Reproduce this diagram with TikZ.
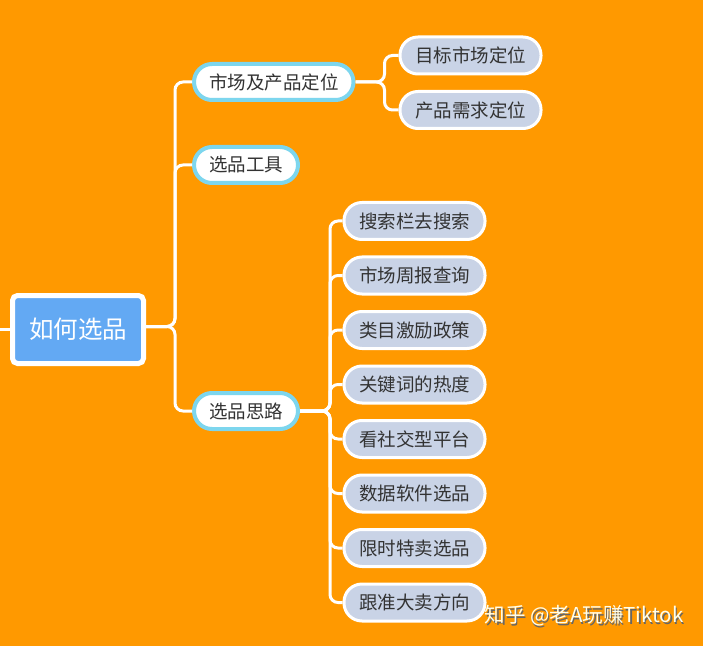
\documentclass[tikz,border=0pt]{standalone}
\usepackage{fontspec}
\setmainfont{Noto Sans CJK SC}
\usetikzlibrary{calc,positioning}

\definecolor{bgorange}{HTML}{FF9900}
\definecolor{rootblue}{HTML}{63A9F3}
\definecolor{topicrim}{HTML}{7DD6EE}
\definecolor{leafgray}{HTML}{C9D3E6}
\definecolor{textgray}{HTML}{333333}

\begin{document}
\begin{tikzpicture}[x=1pt,y=1pt]

  \tikzstyle{root}=[draw=white,fill=rootblue,line width=5pt,rounded corners=5pt,minimum width=131pt,minimum height=68pt,text=white,font=\fontsize{24.5pt}{26pt}\selectfont]
  \tikzstyle{topic}=[draw=topicrim,fill=white,line width=4pt,rounded corners=18pt,minimum height=36pt,inner xsep=15pt,text=textgray,font=\fontsize{18.5pt}{20pt}\selectfont]
  \tikzstyle{leaf}=[draw=white,fill=leafgray,line width=3pt,rounded corners=18pt,minimum height=37pt,inner xsep=15pt,text=textgray,font=\fontsize{18.5pt}{20pt}\selectfont]
  \tikzstyle{link}=[draw=white,line width=3pt,rounded corners=8pt]

  % ====================
  % Parameters
  % ====================
  \def\topicx{192}   % West side of the topics
  \def\leafax{398.5} % West side of the first leaves
  \def\leafbx{342.5} % West side of the second leaves
  \def\leafsp{54.5}  % Spacing of the leaves
  % ====================

  % Background
  \fill[bgorange] (0,0) rectangle (703,646);
  \useasboundingbox (0,0) rectangle (703,646);

  % ====================
  % Root
  % ====================
  \node (root) [root] at (78,316.5) {如何选品};
  \coordinate (in) at (0,316.5);
  \draw[link] (in) -- (root.west);

  % ====================
  % Topics
  % ====================
  \node (market) [topic,anchor=west] at (\topicx,564) {市场及产品定位};
  \node (tools) [topic,anchor=west] at (\topicx,481) {选品工具};
  \node (ideas) [topic,anchor=west] at (\topicx,235) {选品思路};

  \foreach \t in {market,tools,ideas}
    \draw[link] ([yshift=3pt]root.east) -- ++(29,0) |- (\t.west);

  % ====================
  % Leaves
  % ====================
  \node (goal) [leaf,anchor=west] at (\leafax,590.5) {目标市场定位};
  \node (need) [leaf,anchor=west] at (\leafax,536) {产品需求定位};

  \foreach \l in {goal,need}
    \draw[link] (market.east) -- ++(29,0) |- (\l.west);

  \foreach \txt [count=\i from 0] in {搜索栏去搜索,市场周报查询,类目激励政策,关键词的热度,看社交型平台,数据软件选品,限时特卖选品,跟准大卖方向}
  {
    \node (idea\i) [leaf,anchor=west] at (\leafbx,425-\leafsp*\i) {\txt};
    \draw[link] (ideas.east) -- ++(30,0) |- (idea\i.west);
  }

  % Watermark
  \node (markshadow) [text=black!60,font=\fontsize{20.5pt}{22pt}\selectfont] at (585.5,28.5) {知乎 @老A玩赚Tiktok};
  \node (mark) [text=white!92!yellow,font=\fontsize{20.5pt}{22pt}\selectfont] at (584,30) {知乎 @老A玩赚Tiktok};
\end{tikzpicture}
\end{document}
